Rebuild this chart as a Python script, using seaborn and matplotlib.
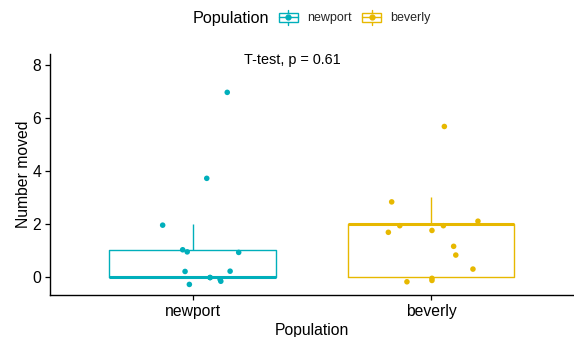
import numpy as np
import pandas as pd
import seaborn as sns
import matplotlib
matplotlib.use("Agg")
import matplotlib.pyplot as plt
from matplotlib.legend_handler import HandlerBase
from matplotlib.lines import Line2D
from matplotlib.patches import Rectangle

# Group names and colours
populations = ["newport", "beverly"]
colors = ["#00AFBB", "#E7B800"]

# Jittered point positions: vertical value and horizontal offset from the group centre
newport_y = [6.97, 3.72, 1.95, 1.02, 0.94, 0.92, 0.20, 0.21, -0.03, -0.03, -0.10, -0.17, -0.29]
newport_dx = [0.145, 0.059, -0.126, -0.042, -0.023, 0.193, -0.032, 0.157, 0.073, 0.073, 0.115, 0.118, -0.014]
beverly_y = [5.68, 2.83, 2.10, 1.93, 1.93, 1.68, 1.75, 1.15, 0.82, 0.29, -0.06, -0.14, -0.19]
beverly_dx = [0.056, -0.165, 0.197, -0.131, 0.052, -0.179, 0.004, 0.095, 0.104, 0.176, 0.004, 0.004, -0.101]

y_ticks = [0, 2, 4, 6, 8]
p_value = 0.61

# Long-format table: counts are whole numbers, the jitter only moves the drawn dots
rows = []
for gi, (name, ys, dxs) in enumerate([("newport", newport_y, newport_dx),
                                      ("beverly", beverly_y, beverly_dx)]):
    for y, dx in zip(ys, dxs):
        rows.append({"Population": name, "moved": float(np.round(y)),
                     "jy": y, "jx": gi + dx})
df = pd.DataFrame(rows)

sns.set_theme(style="ticks")
plt.rcParams["font.family"] = ["Liberation Sans", "DejaVu Sans"]

fig = plt.figure(figsize=(5.74, 3.37), dpi=100)
ax = fig.add_axes([49.7 / 574, 1 - 295 / 337, 1 - 49.7 / 574, (295 - 54) / 337])

palette = dict(zip(populations, colors))
sns.boxplot(data=df, x="Population", y="moved", hue="Population", order=populations,
            hue_order=populations, palette=palette, fill=False, width=0.7,
            showfliers=False, showcaps=False, linewidth=1.0,
            medianprops=dict(linewidth=2.2), whis=1.5, legend=False, ax=ax)
sns.scatterplot(data=df, x="jx", y="jy", hue="Population", hue_order=populations,
                palette=palette, s=16, linewidth=0, legend=False, ax=ax, zorder=3)

ax.set_xlim(-0.6, 1.6)
ax.set_ylim(-0.69, 8.42)
ax.set_yticks(y_ticks)
ax.set_xticks([0, 1])
ax.set_xticklabels(populations)
ax.set_xlabel("Population", fontsize=11.3, color="black", labelpad=3)
ax.set_ylabel("Number moved", fontsize=11.3, color="black", labelpad=1)
ax.tick_params(axis="both", labelsize=11.3, colors="black", length=3.7, width=0.9, pad=2.5)
for side in ["left", "bottom"]:
    ax.spines[side].set_linewidth(1.0)
    ax.spines[side].set_color("black")
sns.despine(ax=ax)

ax.text(0.2165, 8.19, f"T-test, p = {p_value}", fontsize=10.4, ha="left", va="center",
        color="black")


class BoxGlyph(HandlerBase):
    def create_artists(self, legend, orig_handle, xdescent, ydescent, width, height,
                       fontsize, trans):
        c = orig_handle.get_color()
        x0, y0 = -xdescent, -ydescent
        xm, ym = x0 + width / 2, y0 + height / 2
        box = Rectangle((x0, y0), width, height, fill=False, edgecolor=c, lw=1.0,
                        transform=trans)
        top = Line2D([xm, xm], [y0 + height, y0 + height * 1.35], color=c, lw=1.0,
                     transform=trans)
        bot = Line2D([xm, xm], [y0 - height * 0.35, y0], color=c, lw=1.0, transform=trans)
        med = Line2D([x0, x0 + width], [ym, ym], color=c, lw=1.0, transform=trans)
        dot = Line2D([xm], [ym], marker="o", markersize=3.5, color=c, lw=0,
                     transform=trans)
        return [box, top, bot, med, dot]


handles = [Line2D([], [], color=c) for c in colors]
fig.text(192.3 / 574, 1 - 18.5 / 337, "Population", fontsize=11.6, ha="left",
         va="center", color="black")
fig.legend(handles, populations, handler_map={Line2D: BoxGlyph()}, ncol=2,
           loc="center left", bbox_to_anchor=(279 / 574, 1 - 18.5 / 337),
           frameon=False, fontsize=9, borderpad=0, borderaxespad=0,
           handlelength=1.5, handleheight=0.7, handletextpad=0.75, columnspacing=0.85)

fig.savefig("out.png", dpi=100)
